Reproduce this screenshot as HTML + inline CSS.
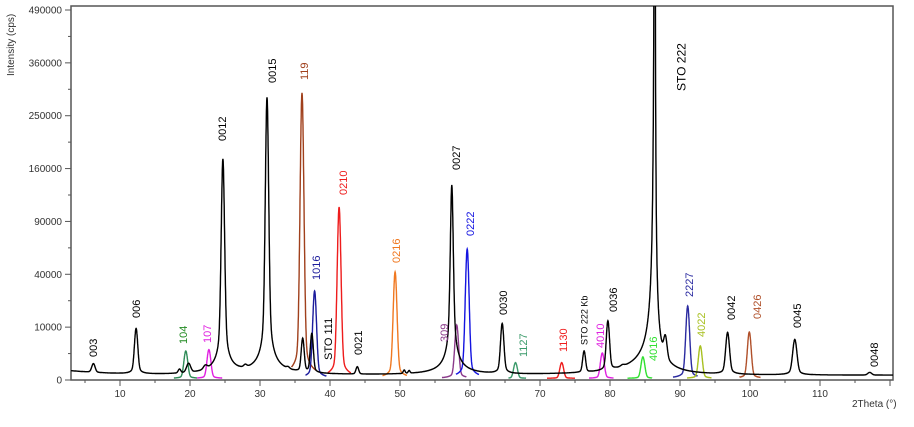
<!DOCTYPE html>
<html><head><meta charset="utf-8"><style>
body{margin:0;background:#fff;width:914px;height:427px;overflow:hidden}
svg{display:block;font-family:"Liberation Sans",Arial,sans-serif}
</style></head><body>
<svg id="s" width="914" height="427" xmlns="http://www.w3.org/2000/svg">
<defs><clipPath id="c"><rect x="71" y="6" width="822" height="374"/></clipPath></defs>
<rect x="71" y="6" width="822" height="374" fill="none" stroke="#555" stroke-width="1.5"/>
<g id="ax" fill="#333" font-size="10"></g>
<g id="cv" clip-path="url(#c)" fill="none" stroke-width="1.4"></g>
<g id="lb" font-size="11"></g>
<text transform="translate(14,76) rotate(-90)" font-size="10" fill="#333">Intensity (cps)</text>
<text x="852" y="407" font-size="10" fill="#333">2Theta (°)</text>
</svg>
<script>
const NS="http://www.w3.org/2000/svg";
const X=t=>50+7*t, Y=i=>380-370*Math.sqrt(Math.max(i,0)/490000);
function el(p,tag,a,txt){const e=document.createElementNS(NS,tag);for(const k in a)e.setAttribute(k,a[k]);if(txt)e.textContent=txt;document.getElementById(p).appendChild(e);return e;}
[0,10000,40000,90000,160000,250000,360000,490000].forEach(v=>{const y=Y(v);el("ax","line",{x1:65,x2:71,y1:y,y2:y,stroke:"#555"});el("ax","text",{x:62,y:y+3.5,"text-anchor":"end"},String(v));});
for(let s=0.5;s<7;s+=1){const v=490000*(s/7)**2;const y=Y(v);el("ax","line",{x1:68,x2:71,y1:y,y2:y,stroke:"#555"});}
for(let t=5;t<=120;t+=5){const x=X(t);const maj=t%10==0;el("ax","line",{x1:x,x2:x,y1:380,y2:maj?386:383,stroke:"#555"});if(maj&&t<120)el("ax","text",{x:x,y:397,"text-anchor":"middle"},String(t));}
const PV=(t,t0,A,w,e)=>{const d=(t-t0)/w;return A*((1-e)*Math.exp(-Math.LN2*d*d)+e/(1+d*d));};
function black(t){let i=400*Math.exp(-t/5)+80;
 const P=[[6.2,750,0.25,.2],[12.3,9400,0.22,.2],[18.5,250,0.2,.2],[19.8,800,0.3,.2],[22.2,350,0.3,.2],[24.7,175000,0.22,.25],[27.9,250,0.25,.2],[31.0,286000,0.22,.25],[34,150,0.25,.2],[36.1,6000,0.2,.2],[37.4,7600,0.2,.2],[43.9,500,0.2,.2],[50.6,200,0.15,.2],[51.3,150,0.15,.2],[57.4,136000,0.2,.45],[64.6,11300,0.22,.2],[76.3,2800,0.2,.2],[79.7,12200,0.22,.2],[81.8,150,0.3,.2],[87.9,5000,0.25,.2],[96.8,8000,0.25,.2],[106.4,5800,0.28,.2],[117.1,120,0.3,.2]];
 for(const p of P)i+=PV(t,...p);
 const d=t-86.4;i+=(d<0?2e6/(1+(d/0.08)**2):2e6/(1+(d/0.05)**2));
 return i;}
function path(f,a,b,col){let d="";for(let t=a;t<=b;t+=0.02){d+=(d?"L":"M")+X(t).toFixed(1)+","+Y(f(t)).toFixed(1);}el("cv","path",{d:d,stroke:col});}
const C=[[19.4,3000,17.7,21,"#2e8b57"],[22.7,3300,21,24.6,"#e020e0"],[36.0,295000,34.5,38,"#a0401c"],[37.8,28400,36.5,39.5,"#1c1c9c"],[41.3,107000,39.7,43,"#ee1c1c"],[49.3,41800,47.5,51,"#f07820"],[58.1,10800,56,59.5,"#8b3a8b"],[59.6,61400,58,61.3,"#1414e0"],[66.5,1070,65.5,68,"#3a9a6a"],[73.1,1070,71,75,"#ee1c1c"],[78.9,2600,77,80.5,"#e020e0"],[84.7,1900,82.5,86,"#30e030"],[91.1,19600,89,92.5,"#2a2aa0"],[92.9,4150,91,94.5,"#a8c020"],[99.9,8250,98.5,101.5,"#b0502a"]];
for(const c of C){path(t=>PV(t,c[0],c[1],0.24,0.08)+10,c[2],c[3],c[4]);}
path(black,3,120.5,"#000");
const LB=[["003",93,357,"#000"],["006",136,318,"#000"],["104",183,344,"#228b22"],["107",207,343,"#e020e0"],["0012",222,141,"#000"],["0015",272,83,"#000"],["119",304,80,"#a0401c"],["1016",316,280,"#1c1c9c"],["STO 111",328,360,"#000"],["0210",343,195,"#ee1c1c"],["0021",358,355,"#000"],["0216",396,263,"#f07820"],["309",444,342,"#8b3a8b"],["0027",456,170,"#000"],["0222",470,236,"#1414e0"],["0030",503,315,"#000"],["1127",523,357,"#3a9a6a"],["1130",563,352,"#ee1c1c"],["STO 222 Kb",584,345,"#000",9],["4010",600,348,"#e020e0"],["0036",613,312,"#000"],["4016",653,361,"#30e030"],["2227",689,297,"#2a2aa0"],["4022",701,337,"#a8c020"],["0042",731,320,"#000"],["0426",757,319,"#b0502a"],["0045",797,328,"#000"],["0048",874,367,"#000"],["STO 222",681,91,"#000",12]];
for(const l of LB){const s=l[4]||11;el("lb","text",{transform:`translate(${l[1]+s*0.37},${l[2]}) rotate(-90)`,fill:l[3],"font-size":s},l[0]);}
</script>
</body></html>
